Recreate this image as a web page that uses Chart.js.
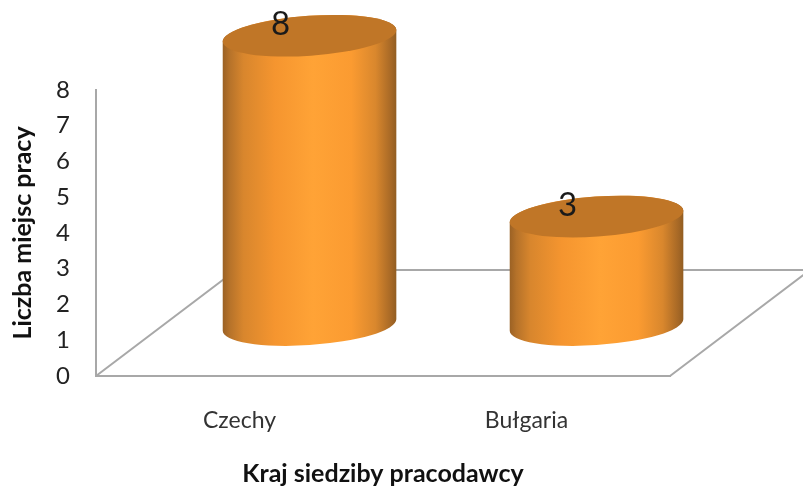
<!DOCTYPE html>
<html><head><meta charset="utf-8">
<style>html,body{margin:0;padding:0;background:#fff}canvas{display:block}</style>
<script src="https://cdn.jsdelivr.net/npm/chart.js@4"></script>
</head><body>
<canvas id="c" width="803" height="486"></canvas>
<script>
const categories = ['Czechy', 'Bułgaria'];
const values = [8, 3];
const yAxisTitle = 'Liczba miejsc pracy';
const xAxisTitle = 'Kraj siedziby pracodawcy';
const FONT = 'Lato, Carlito, "Open Sans", sans-serif';
const A = 87, B = 20, TILT = -4 * Math.PI / 180;
const THETA = Math.atan(-(B / A) * Math.tan(TILT));

function bodyGradient(ctx, x0, x1) {
  const g = ctx.createLinearGradient(x0, 0, x1, 0);
  [[0,'#9a6124'],[0.04,'#b5722a'],[0.12,'#d8862d'],[0.3,'#f5952f'],[0.52,'#ffa336'],[0.74,'#fb9b31'],[0.88,'#d9872d'],[0.97,'#a66826'],[1,'#915d22']]
    .forEach(s => g.addColorStop(s[0], s[1]));
  return g;
}
function drawCylinder(ctx) {
  const {x, y, base} = this.getProps(['x', 'y', 'base']);
  ctx.save();
  ctx.beginPath();
  ctx.ellipse(x, base, A, B, TILT, THETA, Math.PI + THETA, false);
  ctx.ellipse(x, y, A, B, TILT, Math.PI + THETA, THETA, false);
  ctx.closePath();
  ctx.fillStyle = bodyGradient(ctx, x - A, x + A);
  ctx.fill();
  ctx.beginPath();
  ctx.ellipse(x, y, A, B, TILT, 0, Math.PI * 2);
  ctx.fillStyle = '#c07627';
  ctx.fill();
  ctx.restore();
}
const cylinderPlugin = {
  id: 'cylinder',
  beforeDatasetsDraw(chart) {
    const a = chart.chartArea, ctx = chart.ctx, dx = 140, dy = 106;
    ctx.save();
    ctx.strokeStyle = '#a8a8a8';
    ctx.lineWidth = 2;
    ctx.beginPath();
    ctx.moveTo(a.left, a.bottom); ctx.lineTo(a.left + dx, a.bottom - dy);
    ctx.lineTo(a.right + dx, a.bottom - dy); ctx.lineTo(a.right, a.bottom);
    ctx.stroke();
    ctx.restore();
    chart.getDatasetMeta(0).data.forEach(el => { el.draw = drawCylinder; });
  },
  afterDatasetsDraw(chart) {
    const ctx = chart.ctx;
    ctx.save();
    ctx.font = '33px ' + FONT;
    ctx.fillStyle = '#1a1a1a';
    ctx.textAlign = 'center';
    ctx.textBaseline = 'middle';
    chart.getDatasetMeta(0).data.forEach((el, i) => {
      ctx.fillText(String(values[i]), el.x - 29, el.y - 11);
    });
    ctx.restore();
  }
};
new Chart(document.getElementById('c'), {
  type: 'bar',
  data: {
    labels: categories,
    datasets: [{
      data: values.map((v, i) => ({x: i, y: v})),
      xAxisID: 'x2', yAxisID: 'y2',
      backgroundColor: '#f4942f',
      barThickness: 174,
      clip: false
    }]
  },
  options: {
    responsive: false,
    animation: false,
    layout: {padding: {top: 90, right: 133, left: 0, bottom: 0}},
    plugins: {legend: {display: false}, tooltip: {enabled: false}},
    scales: {
      x: {
        type: 'category',
        labels: categories,
        afterFit(s) { s.height = 110; },
        grid: {display: false, drawTicks: false},
        border: {display: true, color: '#a8a8a8', width: 2},
        ticks: {color: '#333', font: {family: FONT, size: 23}, padding: 31, maxRotation: 0},
        title: {display: true, text: xAxisTitle, color: '#111', font: {family: FONT, size: 25, weight: 'bold'}, padding: {top: 14, bottom: -3}}
      },
      y: {
        type: 'linear', min: 0, max: 8,
        afterFit(s) { s.width = 96; },
        grid: {display: false, drawTicks: false},
        border: {display: true, color: '#a8a8a8', width: 2},
        ticks: {stepSize: 1, color: '#222', font: {family: FONT, size: 24}, padding: 26},
        title: {display: true, text: yAxisTitle, color: '#111', font: {family: FONT, size: 25, weight: 'bold'}, padding: {top: 8, bottom: 0}}
      },
      x2: {type: 'linear', display: false, offset: false, min: -0.744, max: 1.256},
      y2: {type: 'linear', display: false, min: -1.41, max: 6.5}
    }
  },
  plugins: [cylinderPlugin]
});
</script>
</body></html>
